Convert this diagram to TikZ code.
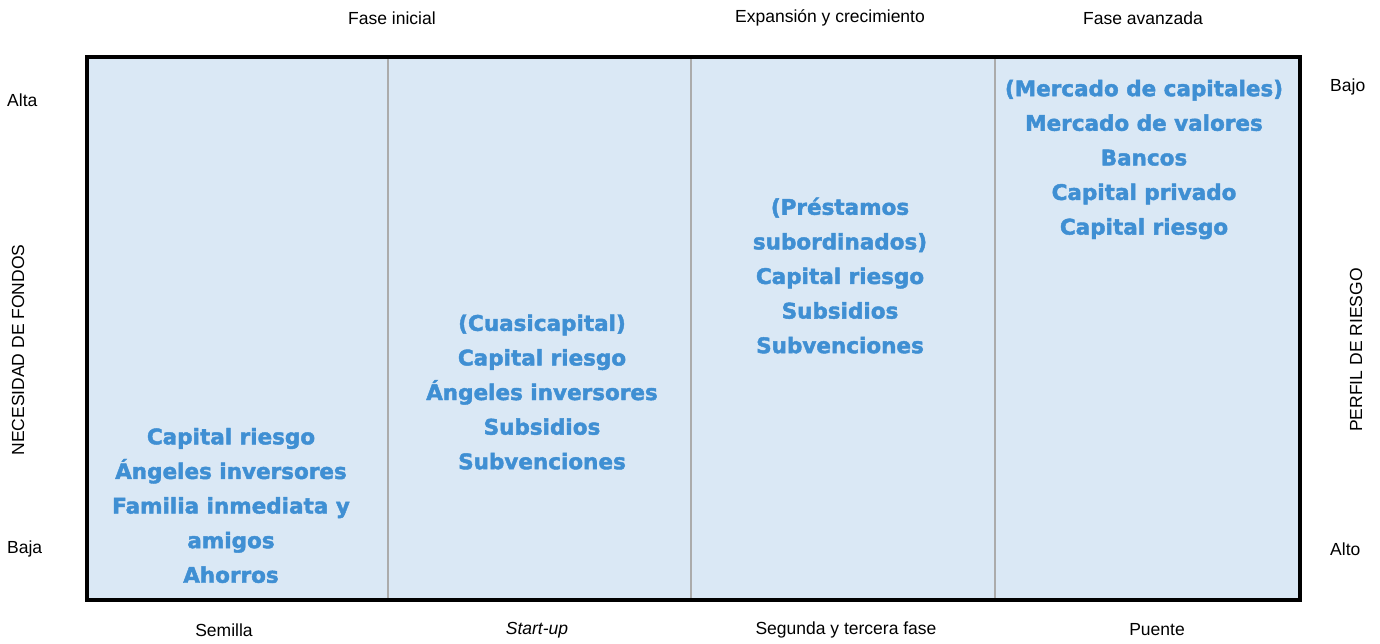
\documentclass[tikz,border=0pt]{standalone}
\usepackage{fontspec}
\setmainfont{Liberation Sans}
\newfontfamily\heavyfont{DejaVu Sans}[BoldFont={DejaVu Sans Bold},BoldFeatures={FakeBold=2}]
\definecolor{panelblue}{HTML}{DAE8F5}
\definecolor{textblue}{HTML}{3F8FD3}
\definecolor{divgray}{HTML}{ABABAB}
\tikzset{
  lbl/.style={font=\fontsize{17.5}{20}\selectfont, inner sep=0pt},
  fundlist/.style={font=\heavyfont\bfseries\fontsize{21.5}{34.6}\selectfont, text=textblue, align=center, inner sep=0pt}
}
\begin{document}
\begin{tikzpicture}[x=1pt,y=-1pt]
\useasboundingbox (0,0) rectangle (1380,643);
% panel
\fill[panelblue] (87,57) rectangle (1300,600);
\foreach \xd in {388,691,995}
  \draw[divgray,line width=1.5pt] (\xd,57) -- (\xd,600);
\draw[line width=4.5pt] (87,57) rectangle (1300,600);
% phase labels
\node[lbl] (fini) at (392,18) {Fase inicial};
\node[lbl] (fexp) at (830,18) {Expansión y crecimiento};
\node[lbl] (fava) at (1143,18) {Fase avanzada};
\node[lbl] (semi) at (224,630) {Semilla};
\node[lbl] (star) at (537,630) {\itshape Start-up};
\node[lbl] (segu) at (846,630) {Segunda y tercera fase};
\node[lbl] (puen) at (1157,630) {Puente};
% axes
\node[lbl,anchor=west] (alta) at (7,100) {Alta};
\node[lbl,anchor=west] (baja) at (7,549) {Baja};
\node[lbl,rotate=90] (nece) at (18,350) {NECESIDAD DE FONDOS};
\node[lbl,anchor=west] (bajo) at (1330,87) {Bajo};
\node[lbl,anchor=west] (alto) at (1330,549) {Alto};
\node[lbl,rotate=90] (perf) at (1356,350) {PERFIL DE RIESGO};
% sources of funds
\node[fundlist] (semilla) at (231,505.5) {Capital riesgo\\Ángeles inversores\\Familia inmediata y\\amigos\\Ahorros};
\node[fundlist] (startup) at (542,392) {(Cuasicapital)\\Capital riesgo\\Ángeles inversores\\Subsidios\\Subvenciones};
\node[fundlist] (segunda) at (840,275.5) {(Préstamos\\subordinados)\\Capital riesgo\\Subsidios\\Subvenciones};
\node[fundlist] (puente) at (1144,159.5) {(Mercado de capitales)\\Mercado de valores\\Bancos\\Capital privado\\Capital riesgo};
\end{tikzpicture}
\end{document}
